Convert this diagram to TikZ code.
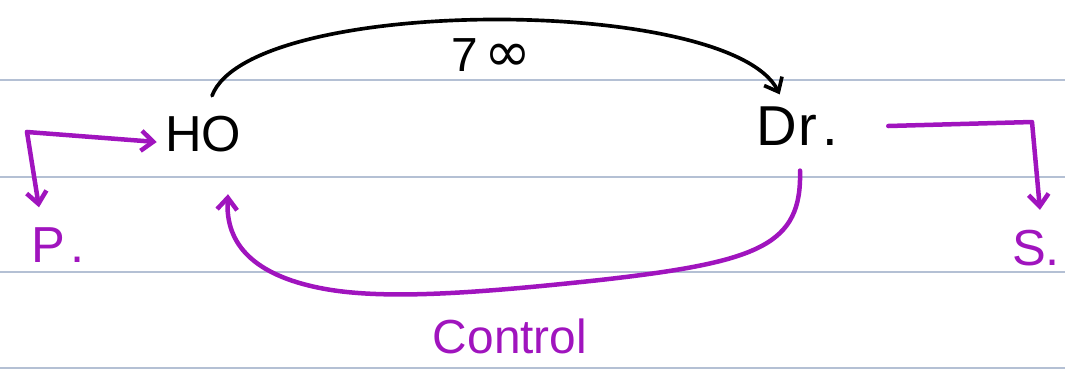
\documentclass[tikz,border=0pt]{standalone}
\usepackage{fontspec}
\setmainfont{Liberation Sans}
\newfontfamily\symfont{DejaVu Sans}
\usetikzlibrary{positioning,arrows.meta,calc}
\definecolor{pen}{RGB}{160,20,190}
\definecolor{rule}{RGB}{180,192,212}

\begin{document}
\begin{tikzpicture}[
      x=0.025cm, y=-0.025cm,
      line cap=round, line join=round,
      >={Straight Barb[length=3mm,width=5mm]},
      word/.style={font=\fontsize{36}{40}\selectfont, inner sep=0pt},
      note/.style={font=\fontsize{34}{38}\selectfont, inner sep=0pt},
      ink/.style={draw=black, line width=2.6pt},
      purple ink/.style={draw=pen, line width=3.2pt},
      paper/.style={draw=rule, line width=0.8pt}
    ]
    \useasboundingbox (0,0) rectangle (1065,370);
    \foreach \y in {80,177,272,368}
      \draw[paper] (0,\y) -- (1065,\y);

    \node[word] (ho) at (203,134) {HO};
    \node[word, font=\fontsize{40}{44}\selectfont] (dr) at (797,126) {D\kern1pt r\kern4pt.};
    \node[word, text=pen] (p) at (58,245) {P\kern4pt.};
    \node[word, text=pen] (s) at (1036,248) {S.};

    % top arc
    \draw[ink,->] ($(ho.north)+(9,-20)$) .. controls (250,-5) and (730,-5) .. ($(dr.north west)+(24,-12)$)
         node[note, pos=0.5, below=12pt] (top) {7\kern4pt{\symfont\fontsize{40}{40}\selectfont ∞}};

    % feedback below
    \draw[purple ink,->] ($(dr.south)+(3,25)$) .. controls (802,245) and (760,262) .. (600,280)
         .. controls (470,294) and (380,300) .. (320,288)
         .. controls (255,275) and (225,245) .. ($(ho.south)+(25,42)$);
    \node[note, text=pen] (ctrl) at (510,336) {Control};

    % side branches
    \coordinate (pbend) at (27,132);
    \draw[purple ink,->] (pbend) -- ($(ho.west)+(-8,8)$);
    \draw[purple ink,->] (pbend) -- ($(p.north west)+(8,-20)$);
    \coordinate (sbend) at (1032,122);
    \draw[purple ink,->] ($(dr.east)+(50,0)$) -- (sbend) -- ($(s.north)+(4,-20)$);
  \end{tikzpicture}
\end{document}
